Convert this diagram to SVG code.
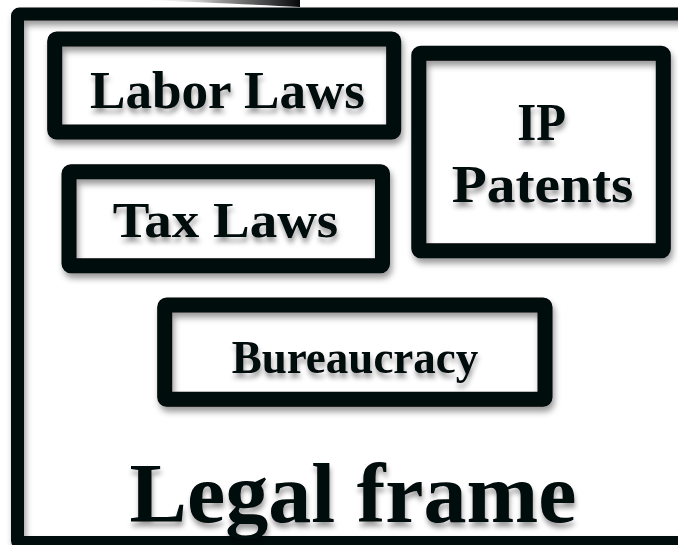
<svg xmlns="http://www.w3.org/2000/svg" width="678" height="545" viewBox="0 0 678 545">
<defs>
<filter id="sh" x="-10%" y="-10%" width="120%" height="130%">
<feDropShadow dx="2" dy="5" stdDeviation="3" flood-color="#000" flood-opacity="0.4"/>
</filter>
<filter id="tsh" x="-10%" y="-10%" width="120%" height="140%">
<feDropShadow dx="1" dy="5" stdDeviation="2.5" flood-color="#000" flood-opacity="0.38"/>
</filter>
<linearGradient id="tail" x1="0" y1="0" x2="1" y2="0">
<stop offset="0" stop-color="#fff" stop-opacity="0"/>
<stop offset="0.5" stop-color="#999"/>
<stop offset="1" stop-color="#050708"/>
</linearGradient>
</defs>
<style>
.box{fill:none;stroke:#050708;stroke-width:15;stroke-linejoin:miter}
.t{font-family:"Liberation Serif","Times New Roman",serif;font-weight:bold;fill:#050708;text-anchor:middle}
</style>
<rect width="678" height="545" fill="#fff"/>
<path d="M140,0 L300,0 L300,7 C260,5 200,2 140,0 Z" fill="url(#tail)"/>
<g id="frame">
<rect x="17.5" y="14" width="690" height="528.5" rx="2" fill="none" stroke="#050708" stroke-width="13" filter="url(#sh)"/>
<text class="t" x="353" y="521.5" font-size="85" textLength="447" lengthAdjust="spacingAndGlyphs" filter="url(#tsh)">Legal frame</text>
</g>
<g id="labor">
<rect class="box" x="54.7" y="39" width="339" height="93" rx="2" filter="url(#sh)"/>
<text class="t" x="227.5" y="108.3" font-size="53" textLength="275" lengthAdjust="spacingAndGlyphs" filter="url(#tsh)">Labor Laws</text>
</g>
<g id="tax">
<rect class="box" x="69" y="171.7" width="313.5" height="94" rx="2" filter="url(#sh)"/>
<text class="t" x="225.5" y="236.5" font-size="51" textLength="225.5" lengthAdjust="spacingAndGlyphs" filter="url(#tsh)">Tax Laws</text>
</g>
<g id="ip">
<rect class="box" x="418.8" y="53.3" width="244.5" height="197.5" rx="2" filter="url(#sh)"/>
<text class="t" x="541.7" y="140" font-size="52" textLength="48.7" lengthAdjust="spacingAndGlyphs" filter="url(#tsh)">IP</text>
<text class="t" x="542.5" y="201.7" font-size="52" textLength="181.7" lengthAdjust="spacingAndGlyphs" filter="url(#tsh)">Patents</text>
</g>
<g id="bureau">
<rect class="box" x="164.7" y="305" width="380.3" height="94.2" rx="2" filter="url(#sh)"/>
<text class="t" x="355" y="373.3" font-size="46" textLength="246.7" lengthAdjust="spacingAndGlyphs" filter="url(#tsh)">Bureaucracy</text>
</g>
<g id="connectors"/>
</svg>
